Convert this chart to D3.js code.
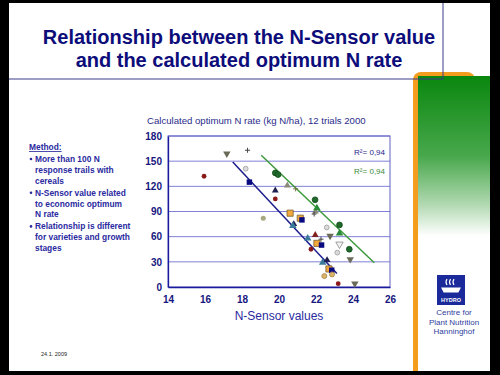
<!DOCTYPE html>
<html lang="en">
<head>
<meta charset="utf-8">
<script src="https://cdn.jsdelivr.net/npm/d3@7"></script>
<style>
  body { margin: 0; background: #000; }
  svg { display: block; font-family: "Liberation Sans", Arial, sans-serif; }
</style>
</head>
<body>
<script>
// slide texts
const titleLines = ['Relationship between the N-Sensor value', 'and the calculated optimum N rate']
const methodLines = [
  ['More than 100 N', 'response trails with', 'cereals'],
  ['N-Sensor value related', 'to economic optimum', 'N rate'],
  ['Relationship is different', 'for varieties and growth', 'stages']
]
const logoLines = ['Centre for', 'Plant Nutrition', 'Hanninghof']

// chart data: N-Sensor value, optimum N rate, marker kind
const sensorVal = [15.95, 17.18, 18.3, 18.2, 18.4, 19.8, 19.8, 19.8, 19.95, 19.15, 20.45, 20.9, 20.6, 20.8, 20.75,
  21.15, 21.24, 21.95, 21.97, 21.9, 22.05, 21.55, 21.96, 22.27, 22.05, 22.3, 22.58, 22.76, 21.73, 23.27,
  23.27, 23.27, 23.15, 23.8, 23.85, 22.36, 22.6, 22.7, 22.85, 22.45, 22.87, 23.2, 24.1]
const optRate = [132, 159, 163, 141, 125, 115, 105, 136, 134, 82, 121, 117, 88, 75, 73,
  82, 80, 104, 90, 87, 94, 58, 62, 57, 52, 50, 71, 61, 45, 74,
  64, 51, 41, 45, 33, 29, 32, 21.5, 20, 13, 15, 4, 4]
const markerKind = ['dotR', 'tdnO', 'plus', 'cirW', 'sqB', 'triN', 'dotR', 'cirG', 'cirG', 'cirO', 'triO', 'plusG', 'sqO', 'triN', 'triT',
  'sqO', 'sqB', 'cirG', 'triO', 'plus', 'triG', 'triT', 'triR', 'plus', 'sqO', 'sqB', 'cirW', 'tdnO', 'dotR', 'cirG',
  'triG', 'tdnW', 'cirW', 'cirG', 'tdnO', 'triT', 'triN', 'sqO', 'sqB', 'cirT', 'cirT', 'dotR', 'tdnO']

// trend lines (end points)
const blueLineX = [17.5, 23.13], blueLineY = [149, 16]
const greenLineX = [19.04, 25.15], greenLineY = [157, 29]
const rLabels = ['R²= 0,94', 'R²= 0,94']

const xTicks = [14, 16, 18, 20, 22, 24, 26]
const yTicks = [0, 30, 60, 90, 120, 150, 180]

const navy = '#16167e'
const w = 500, h = 375

let svg = d3.select('body').append('svg').attr('width', w).attr('height', h)

// slide frame
svg.append('rect').attr('width', w).attr('height', h).attr('fill', '#000')
svg.append('rect').attr('x', 9).attr('y', 3).attr('width', 481).attr('height', 368).attr('fill', '#fff')

// right decoration
let defs = svg.append('defs')
let grad = defs.append('linearGradient').attr('id', 'gr').attr('x1', 0).attr('y1', 0).attr('x2', 0).attr('y2', 1)
grad.append('stop').attr('offset', 0).attr('stop-color', '#0a870e')
grad.append('stop').attr('offset', 0.5).attr('stop-color', '#48a84c')
grad.append('stop').attr('offset', 0.8).attr('stop-color', '#b0d8b0')
grad.append('stop').attr('offset', 1).attr('stop-color', '#ffffff')
svg.append('rect').attr('x', 413).attr('y', 72).attr('width', 62).attr('height', 320).attr('rx', 8).attr('fill', '#f39c1e')
svg.append('rect').attr('x', 418).attr('y', 77).attr('width', 72).attr('height', 294).attr('fill', '#fff')
svg.append('rect').attr('x', 418).attr('y', 76).attr('width', 72).attr('height', 160).attr('fill', 'url(#gr)')
// black border again over the right edge
svg.append('rect').attr('x', 490).attr('y', 0).attr('width', 10).attr('height', h).attr('fill', '#000')
svg.append('rect').attr('x', 0).attr('y', 371).attr('width', w).attr('height', 4).attr('fill', '#000')

// title box
svg.append('path').attr('d', 'M9,79 H443 V3').attr('fill', 'none').attr('stroke', '#3a3a8a').attr('stroke-width', 1)
svg.selectAll('.title').data(titleLines).enter().append('text')
  .attr('x', 239).attr('y', (d, i) => 44 + i * 23)
  .attr('text-anchor', 'middle').attr('font-size', 20).attr('font-weight', 'bold')
  .attr('fill', '#0c0c7a').text(d => d)

// method text
svg.append('text').attr('x', 29).attr('y', 150).attr('font-size', 8.4).attr('font-weight', 'bold')
  .attr('fill', '#2a2aa0').attr('text-decoration', 'underline').text('Method:')
let ly = 162
methodLines.forEach(function(group) {
  svg.append('circle').attr('cx', 31).attr('cy', ly - 3).attr('r', 1.3).attr('fill', '#2a2aa0')
  group.forEach(function(line) {
    svg.append('text').attr('x', 35).attr('y', ly).attr('font-size', 8.4).attr('font-weight', 'bold')
      .attr('fill', '#2a2aa0').text(line)
    ly += 10.8
  })
  ly += 1.3
})

// date
svg.append('text').attr('x', 41).attr('y', 356).attr('font-size', 5.5).attr('fill', '#222').text('24.1. 2009')

// logo
svg.append('rect').attr('x', 437).attr('y', 275).attr('width', 28).attr('height', 30).attr('fill', '#1a2a9a')
let logo = svg.append('g').attr('fill', 'none').attr('stroke', '#fff').attr('stroke-width', 1.2)
;[0, 1, 2].forEach(function(i) {
  logo.append('path').attr('d', 'M' + (447 + i * 3.5) + ',279 q-2,3 0,6')
})
logo.append('path').attr('d', 'M442,288 h18 l-2,4 h-14 z').attr('fill', '#fff')
svg.append('text').attr('x', 451).attr('y', 301.5).attr('text-anchor', 'middle').attr('font-size', 5.5)
  .attr('font-weight', 'bold').attr('fill', '#fff').text('HYDRO')
svg.selectAll('.logo').data(logoLines).enter().append('text')
  .attr('x', 454).attr('y', (d, i) => 315 + i * 9.5)
  .attr('text-anchor', 'middle').attr('font-size', 8).attr('fill', '#3040a0').text(d => d)

// chart
const pLeft = 168, pRight = 390, pTop = 136, pBottom = 287
let xScale = d3.scaleLinear().domain([14, 26]).range([pLeft, pRight])
let yScale = d3.scaleLinear().domain([0, 180]).range([pBottom, pTop])

svg.append('text').attr('x', 147).attr('y', 124).attr('font-size', 9.6).attr('fill', '#2a2a8a')
  .text('Calculated optimum N rate (kg N/ha), 12 trials 2000')

svg.selectAll('.grid').data(yTicks.filter(d => d > 0)).enter().append('line')
  .attr('x1', pLeft).attr('x2', pRight)
  .attr('y1', d => yScale(d)).attr('y2', d => yScale(d))
  .attr('stroke', '#8080d8').attr('stroke-width', 1)

svg.append('rect').attr('x', pLeft).attr('y', pTop).attr('width', pRight - pLeft).attr('height', pBottom - pTop)
  .attr('fill', 'none').attr('stroke', '#6060c0').attr('stroke-width', 1)

let xAxis = svg.append('g').attr('transform', 'translate(0,' + pBottom + ')')
  .call(d3.axisBottom(xScale).tickValues(xTicks).tickSize(0).tickPadding(9))
let yAxis = svg.append('g').attr('transform', 'translate(' + pLeft + ',0)')
  .call(d3.axisLeft(yScale).tickValues(yTicks).tickSize(0).tickPadding(6))
;[xAxis, yAxis].forEach(function(ax) {
  ax.select('.domain').attr('stroke', '#1a1a9a').attr('stroke-width', 1.3)
  ax.selectAll('text').attr('font-size', 10).attr('font-weight', 'bold').attr('fill', navy)
    .attr('font-family', '"Liberation Sans", Arial, sans-serif')
})

svg.append('text').attr('x', 279).attr('y', 320).attr('text-anchor', 'middle').attr('font-size', 12)
  .attr('fill', '#2a2aa0').text('N-Sensor values')

// trend lines
let lineGen = d3.line().x(d => xScale(d[0])).y(d => yScale(d[1]))
svg.append('path').attr('d', lineGen(d3.zip(blueLineX, blueLineY)))
  .attr('stroke', '#1c1c8c').attr('stroke-width', 1.5).attr('fill', 'none')
svg.append('path').attr('d', lineGen(d3.zip(greenLineX, greenLineY)))
  .attr('stroke', '#3c9a3c').attr('stroke-width', 1.5).attr('fill', 'none')

svg.selectAll('.r2').data(rLabels).enter().append('text')
  .attr('x', 385).attr('y', (d, i) => 155 + i * 19).attr('text-anchor', 'end')
  .attr('font-size', 8).attr('fill', (d, i) => i == 0 ? '#1c1c8c' : '#3c8a3c').text(d => d)

// marker styles
const styles = {
  dotR: { type: d3.symbolCircle, size: 18, fill: '#8b1a1a', stroke: 'none' },
  cirG: { type: d3.symbolCircle, size: 26, fill: '#1f6a2a', stroke: '#0f4a1a' },
  cirW: { type: d3.symbolCircle, size: 18, fill: '#dcdcdc', stroke: '#999' },
  cirO: { type: d3.symbolCircle, size: 20, fill: '#a8a880', stroke: 'none' },
  cirT: { type: d3.symbolCircle, size: 20, fill: '#d9b56a', stroke: '#a8884a' },
  sqB: { type: d3.symbolSquare, size: 30, fill: '#0a0a80', stroke: 'none' },
  sqO: { type: d3.symbolSquare, size: 38, fill: '#f2a83a', stroke: '#7a6030' },
  triN: { type: d3.symbolTriangle, size: 20, fill: '#202050', stroke: 'none' },
  triT: { type: d3.symbolTriangle, size: 24, fill: '#3a7a9a', stroke: 'none' },
  triG: { type: d3.symbolTriangle, size: 24, fill: '#2a8a3a', stroke: 'none' },
  triO: { type: d3.symbolTriangle, size: 20, fill: '#8a8a78', stroke: 'none' },
  triR: { type: d3.symbolTriangle, size: 20, fill: '#802020', stroke: 'none' },
  tdnO: { type: d3.symbolTriangle, size: 24, fill: '#6a6a58', stroke: 'none', rot: 180 },
  tdnW: { type: d3.symbolTriangle, size: 24, fill: '#f4f4f4', stroke: '#888', rot: 180 },
  plus: { plus: true, stroke: '#444' },
  plusG: { plus: true, stroke: '#707040' }
}

let pts = sensorVal.map((d, i) => ({ x: d, y: optRate[i], k: markerKind[i] }))
let marks = svg.append('g')
marks.selectAll('g').data(pts).enter().append('g')
  .attr('transform', d => 'translate(' + xScale(d.x) + ',' + yScale(d.y) + ')')
  .each(function(d) {
    let st = styles[d.k]
    let g = d3.select(this)
    if (st.plus) {
      g.append('path').attr('d', 'M-2.5,0 H2.5 M0,-2.5 V2.5').attr('stroke', st.stroke).attr('stroke-width', 1)
    } else {
      g.append('path').attr('d', d3.symbol().type(st.type).size(st.size)())
        .attr('transform', st.rot ? 'rotate(' + st.rot + ')' : null)
        .attr('fill', st.fill).attr('stroke', st.stroke).attr('stroke-width', 0.8)
    }
  })
</script>
</body>
</html>
